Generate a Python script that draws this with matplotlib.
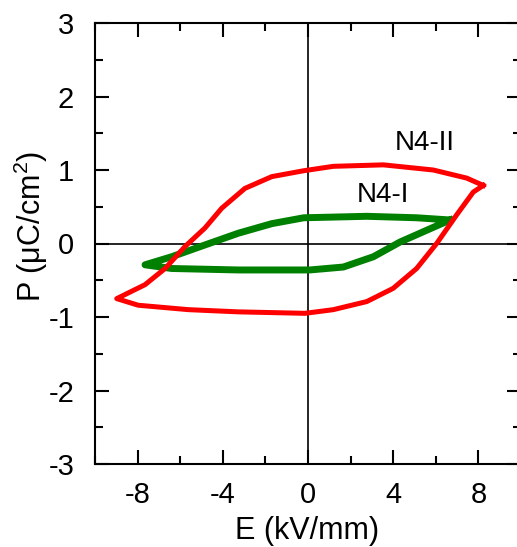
import matplotlib
matplotlib.use("Agg")
import matplotlib.pyplot as plt
from matplotlib.ticker import MultipleLocator

plt.rcParams['font.family'] = ['Liberation Sans', 'DejaVu Sans']
plt.rcParams['axes.unicode_minus'] = False
plt.rcParams['mathtext.fontset'] = 'custom'
plt.rcParams['mathtext.rm'] = 'Liberation Sans'

# N4-II loop (red): upper branch right->left, then lower branch left->right
E_II = [8.23, 7.45, 5.88, 3.54, 1.19, -0.2, -1.70, -2.96, -4.05, -4.84, -5.77, -6.71, -7.65, -8.98,
        -7.97, -5.62, -3.27, -0.14, 1.19, 2.76, 4.0, 5.10, 6.04, 6.98, 7.76, 8.23]
P_II = [0.79, 0.89, 1.0, 1.07, 1.05, 0.99, 0.91, 0.75, 0.48, 0.21, -0.04, -0.34, -0.56, -0.75,
        -0.84, -0.90, -0.93, -0.95, -0.90, -0.79, -0.61, -0.34, 0.0, 0.39, 0.70, 0.79]

# N4-I loop (green)
E_I = [6.67, 5.10, 2.76, -0.2, -1.7, -3.27, -4.84, -6.4, -7.65,
       -6.4, -3.27, 0.09, 1.66, 3.07, 4.32, 5.57, 6.67]
P_I = [0.32, 0.35, 0.37, 0.35, 0.27, 0.14, -0.02, -0.18, -0.29,
       -0.34, -0.36, -0.36, -0.32, -0.18, 0.02, 0.18, 0.32]

W, H = 517, 547
fig = plt.figure(figsize=(W / 100, H / 100), dpi=100)
ax = fig.add_axes([95 / W, (H - 464) / H, (521 - 95) / W, 441 / H])

ax.axhline(0, color='black', lw=1.2, zorder=1)
ax.axvline(0, color='black', lw=1.2, zorder=1)
ax.plot(E_II, P_II, color='#ff0000', lw=3.6, solid_joinstyle='round', zorder=3)
ax.plot(E_I, P_I, color='#008000', lw=5, solid_joinstyle='round', zorder=2)

ax.text(5.5, 1.37, 'N4-II', fontsize=20, ha='center', va='center')
ax.text(3.54, 0.66, 'N4-I', fontsize=20, ha='center', va='center')

ax.set_xlim(-10, 10)
ax.set_ylim(-3, 3)
ax.xaxis.set_minor_locator(MultipleLocator(2))
ax.yaxis.set_major_locator(MultipleLocator(1))
ax.yaxis.set_minor_locator(MultipleLocator(0.5))
ax.set_xticks([-8, -4, 0, 4, 8])
ax.tick_params(which='both', direction='in', top=True, right=True, width=1.5,
               labelsize=21)
ax.tick_params(which='major', length=10)
ax.tick_params(which='minor', length=6)
ax.tick_params(axis='y', pad=15)
ax.tick_params(axis='x', pad=12)
for s in ax.spines.values():
    s.set_linewidth(1.5)

fig.text(307.5 / W, (H - 539) / H, 'E (kV/mm)', ha='center', va='baseline', fontsize=22)
fig.text(31 / W, 1 - 226 / H, r'P (μC/cm$\mathregular{^2}$)', rotation=90,
         ha='center', va='center', fontsize=22)

fig.savefig('out.png', dpi=100)
